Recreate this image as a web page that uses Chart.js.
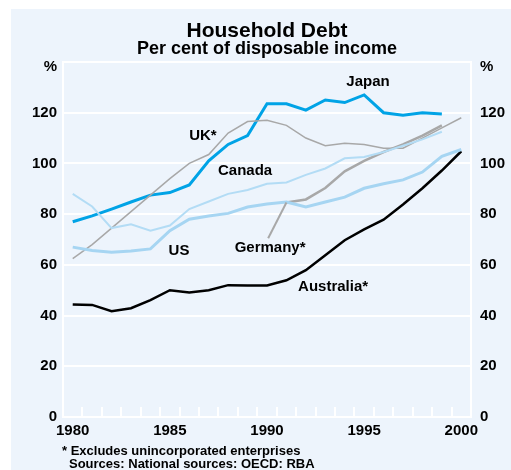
<!DOCTYPE html>
<html>
<head>
<meta charset="utf-8">
<script src="https://cdn.jsdelivr.net/npm/chart.js@4.4.0/dist/chart.umd.min.js"></script>
<style>
    body { margin: 0; background: #ffffff; }
    #wrap { position: absolute; left: 11px; top: 9px; width: 500px; height: 461px; background: #edf4fc; }
</style>
</head>
<body>
<div id="wrap"><canvas id="debt_chart" width="500" height="461"></canvas></div>
<script>
const years = [1980, 1981, 1982, 1983, 1984, 1985, 1986, 1987, 1988, 1989, 1990,
    1991, 1992, 1993, 1994, 1995, 1996, 1997, 1998, 1999, 2000];

const japan = [77, 79.3, 82, 84.8, 87.5, 88.5, 91.5, 101, 107.5, 111, 123.5,
    123.5, 121, 125, 124, 127, 120, 119, 120, 119.5, null];
const uk = [62.5, 68, 74.5, 81, 87.5, 94, 100, 103.5, 112, 116.5, 117,
    115, 110, 107, 108, 107.5, 106, 106, 110, 114, 118];
const canada = [88, 83, 74.5, 76, 73.5, 75.5, 82, 85, 88, 89.5, 92,
    92.5, 95.5, 98, 102, 102.5, 104.5, 107, 109.5, 112.5, null];
const us = [67, 65.7, 65, 65.5, 66.3, 73.5, 78, 79.3, 80.3, 82.8, 84,
    84.8, 82.8, 84.8, 86.7, 90.2, 92, 93.5, 96.6, 102.8, 105.5];
const germany = [null, null, null, null, null, null, null, null, null, null, null,
    84.6, 85.8, 90.3, 96.9, 101, 104.5, 107.5, 111, 115, null];
const australia = [44.4, 44.2, 41.7, 42.9, 46.1, 50, 49.1, 50, 52, 51.9, 51.9,
    53.9, 57.9, 63.8, 69.7, 74, 77.8, 83.8, 90.2, 97.2, 104.8];

const yTicks = [0, 20, 40, 60, 80, 100, 120, 140];
const xTickYears = [1980, 1985, 1990, 1995, 2000];

const FONT = "'Liberation Sans', Arial, Helvetica, sans-serif";

// series names written on the plot (x = year index, y = value)
const seriesLabels = [
    { text: 'Japan', x: 15.2, y: 132.3 },
    { text: 'UK*', x: 6.7, y: 111 },
    { text: 'Canada', x: 8.87, y: 96.9 },
    { text: 'US', x: 5.47, y: 65.4 },
    { text: 'Germany*', x: 10.16, y: 66.9 },
    { text: 'Australia*', x: 13.4, y: 51.2 }
];

const textLayer = {
    id: 'textLayer',
    afterDatasetsDraw(chart) {
        const ctx = chart.ctx;
        const xs = chart.scales.x;
        const ys = chart.scales.y;
        const area = chart.chartArea;
        ctx.save();

        // small year ticks inside the bottom edge
        ctx.strokeStyle = '#ffffff';
        ctx.lineWidth = 2;
        for (let k = 0; k <= years.length; k++) {
            const px = Math.round(xs.getPixelForValue(k - 0.5));
            ctx.beginPath();
            ctx.moveTo(px, area.bottom);
            ctx.lineTo(px, area.bottom - 10);
            ctx.stroke();
        }

        // Germany leader line
        const gi = germany.findIndex(v => v !== null);
        ctx.strokeStyle = '#a8a8a8';
        ctx.lineWidth = 2;
        ctx.beginPath();
        ctx.moveTo(xs.getPixelForValue(10.06), ys.getPixelForValue(70.5));
        ctx.lineTo(xs.getPixelForValue(gi), ys.getPixelForValue(germany[gi]));
        ctx.stroke();

        ctx.fillStyle = '#000000';
        ctx.textAlign = 'center';
        ctx.textBaseline = 'middle';
        ctx.font = 'bold 15px ' + FONT;
        seriesLabels.forEach(l => {
            ctx.fillText(l.text, xs.getPixelForValue(l.x), ys.getPixelForValue(l.y));
        });

        // unit labels above both axes
        ctx.textAlign = 'right';
        ctx.fillText('%', area.left - 6, area.top + 5);
        ctx.textAlign = 'left';
        ctx.fillText('%', area.right + 9, area.top + 5);

        const cx = (area.left + area.right) / 2;
        ctx.textAlign = 'center';
        ctx.textBaseline = 'alphabetic';
        ctx.font = 'bold 21px ' + FONT;
        ctx.fillText('Household Debt', cx, 27.5);
        ctx.font = 'bold 18px ' + FONT;
        ctx.fillText('Per cent of disposable income', cx, 44.5);

        ctx.textAlign = 'left';
        ctx.font = 'bold 13px ' + FONT;
        ctx.fillText('* Excludes unincorporated enterprises', 51, 446);
        ctx.fillText('Sources: National sources: OECD: RBA', 58, 459);
        ctx.restore();
    }
};

function line(label, data, color, width) {
    return {
        label: label,
        data: data,
        borderColor: color,
        borderWidth: width,
        pointRadius: 0,
        tension: 0,
        spanGaps: false,
        fill: false
    };
}

function yAxis(position, pad) {
    return {
        position: position,
        min: 0,
        max: 140,
        afterBuildTicks: s => { s.ticks = yTicks.map(v => ({ value: v })); },
        afterFit: s => { s.width = position === 'left' ? 52 : 40; },
        grid: {
            display: position === 'left',
            color: '#ffffff',
            lineWidth: 2,
            drawTicks: false
        },
        border: { display: true, color: '#ffffff', width: 2 },
        ticks: {
            padding: pad,
            color: '#000000',
            font: { family: FONT, size: 15, weight: 'bold' },
            callback: v => v === 140 ? '' : v
        }
    };
}

function fnDebtChart() {
    const ctx = document.getElementById('debt_chart').getContext('2d');
    new Chart(ctx, {
        type: 'line',
        data: {
            labels: years,
            datasets: [
                line('Canada', canada, '#b3dcf5', 2),
                line('US', us, '#a6d5f2', 3),
                line('UK*', uk, '#a8a8a8', 1.5),
                line('Germany*', germany, '#a8a8a8', 2.5),
                line('Japan', japan, '#00a3e6', 3),
                line('Australia*', australia, '#000000', 2.5)
            ]
        },
        options: {
            responsive: false,
            animation: false,
            layout: { padding: { top: 53, left: 0, right: 0, bottom: 0 } },
            scales: {
                x: {
                    offset: true,
                    afterFit: s => { s.height = 53; },
                    grid: { display: false, drawTicks: false },
                    border: { display: true, color: '#ffffff', width: 2 },
                    ticks: {
                        autoSkip: false,
                        maxRotation: 0,
                        padding: 5,
                        color: '#000000',
                        font: { family: FONT, size: 15, weight: 'bold' },
                        callback: function (v, i) {
                            return xTickYears.includes(years[i]) ? years[i] : '';
                        }
                    }
                },
                y: yAxis('left', 6),
                y2: yAxis('right', 9)
            },
            plugins: {
                legend: { display: false },
                tooltip: { enabled: false },
                title: { display: false }
            }
        },
        plugins: [textLayer]
    });
}

fnDebtChart();
</script>
</body>
</html>
